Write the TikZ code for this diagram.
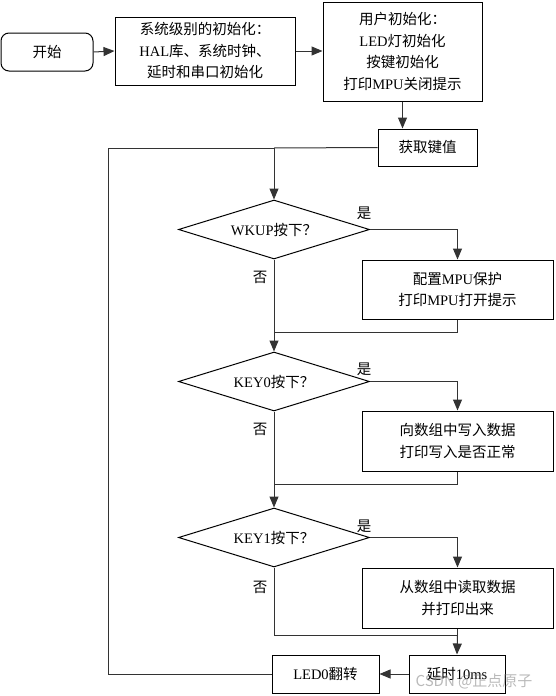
\documentclass[tikz,border=0pt]{standalone}
\usepackage{fontspec}
\setmainfont{Noto Sans CJK SC}
\newfontfamily\latfont{Liberation Serif}
\newcommand\lat[1]{{\latfont #1}}
\usetikzlibrary{shapes.geometric,arrows.meta}
\begin{document}
\begin{tikzpicture}[x=1pt,y=-1pt,
  every node/.style={font=\fontsize{14.5}{21.5}\selectfont},
  box/.style={draw, line width=1pt, align=center, inner sep=0pt},
  dec/.style={draw, diamond, aspect=3.24, line width=1pt, inner sep=0pt, minimum width=191pt, minimum height=59pt},
  arr/.style={-{Triangle[length=11pt,width=9pt]}},
  ln/.style={line width=1pt, draw=black!80},
  lbl/.style={inner sep=0pt}]
\useasboundingbox (0,0) rectangle (555,696);

\node[box, rounded corners=8pt, minimum width=92pt, minimum height=38pt] (start) at (47,52) {开始};
\node[box, minimum width=180pt, minimum height=68pt] (sys) at (205,51)
  {系统级别的初始化：\\\lat{HAL}库、系统时钟、\\延时和串口初始化};
\node[box, minimum width=159pt, minimum height=99pt] (user) at (402.5,51.5)
  {用户初始化：\\\lat{LED}灯初始化\\按键初始化\\打印\lat{MPU}关闭提示};
\node[box, minimum width=99pt, minimum height=37pt] (get) at (427.5,147.5) {获取键值};

\node[dec] (d1) at (274,229.5) {\lat{WKUP}按下？};
\node[box, minimum width=191pt, minimum height=59pt] (b1) at (457.5,289.5)
  {配置\lat{MPU}保护\\打印\lat{MPU}打开提示};
\node[dec] (d2) at (274,381.5) {\lat{KEY0}按下？};
\node[box, minimum width=191pt, minimum height=60pt] (b2) at (457.5,441)
  {向数组中写入数据\\打印写入是否正常};
\node[dec] (d3) at (274,537.5) {\lat{KEY1}按下？};
\node[box, minimum width=191pt, minimum height=60pt] (b3) at (457.5,598)
  {从数组中读取数据\\并打印出来};
\node[box, minimum width=96pt, minimum height=38pt] (delay) at (457,674) {延时\lat{10ms}};
\node[box, minimum width=107pt, minimum height=38pt] (led) at (325.5,674) {\lat{LED0}翻转};

\node[lbl] (y1) at (364,213) {是};
\node[lbl] (n1) at (260,277) {否};
\node[lbl] (y2) at (364,369) {是};
\node[lbl] (n2) at (260,429) {否};
\node[lbl] (y3) at (364,526) {是};
\node[lbl] (n3) at (260,587) {否};

\coordinate (j1) at (274,148);
\coordinate (lp) at (108,148);
\coordinate (m1) at (274,332);
\coordinate (m2) at (274,484);
\coordinate (m3) at (457.5,635);

\draw[ln,arr] (start.east) -- (sys.west);
\draw[ln,arr] (sys.east) -- (sys.east -| user.west);
\draw[ln,arr] (user.south) -- (user.south |- get.north);
\draw[ln] (get.west) -- (j1);
\draw[ln,arr] (j1) -- (d1.north);
\draw[ln,arr] (d1.east) -| (b1.north);
\draw[ln,arr] (d1.south) -- (d2.north);
\draw[ln] (b1.south) |- (m1);
\draw[ln,arr] (d2.east) -| (b2.north);
\draw[ln,arr] (d2.south) -- (d3.north);
\draw[ln] (b2.south) |- (m2);
\draw[ln,arr] (d3.east) -| (b3.north);
\draw[ln] (d3.south) |- (m3);
\draw[ln] (b3.south) -- (m3);
\draw[ln,arr] (m3) -- (delay.north);
\draw[ln,arr] (delay.west) -- (led.east);
\draw[ln] (led.west) -| (lp) -- (j1);

\node[text=gray, opacity=0.55, font=\fontsize{15}{15}\selectfont] (wm) at (474,681) {CSDN @正点原子};
\end{tikzpicture}
\end{document}
